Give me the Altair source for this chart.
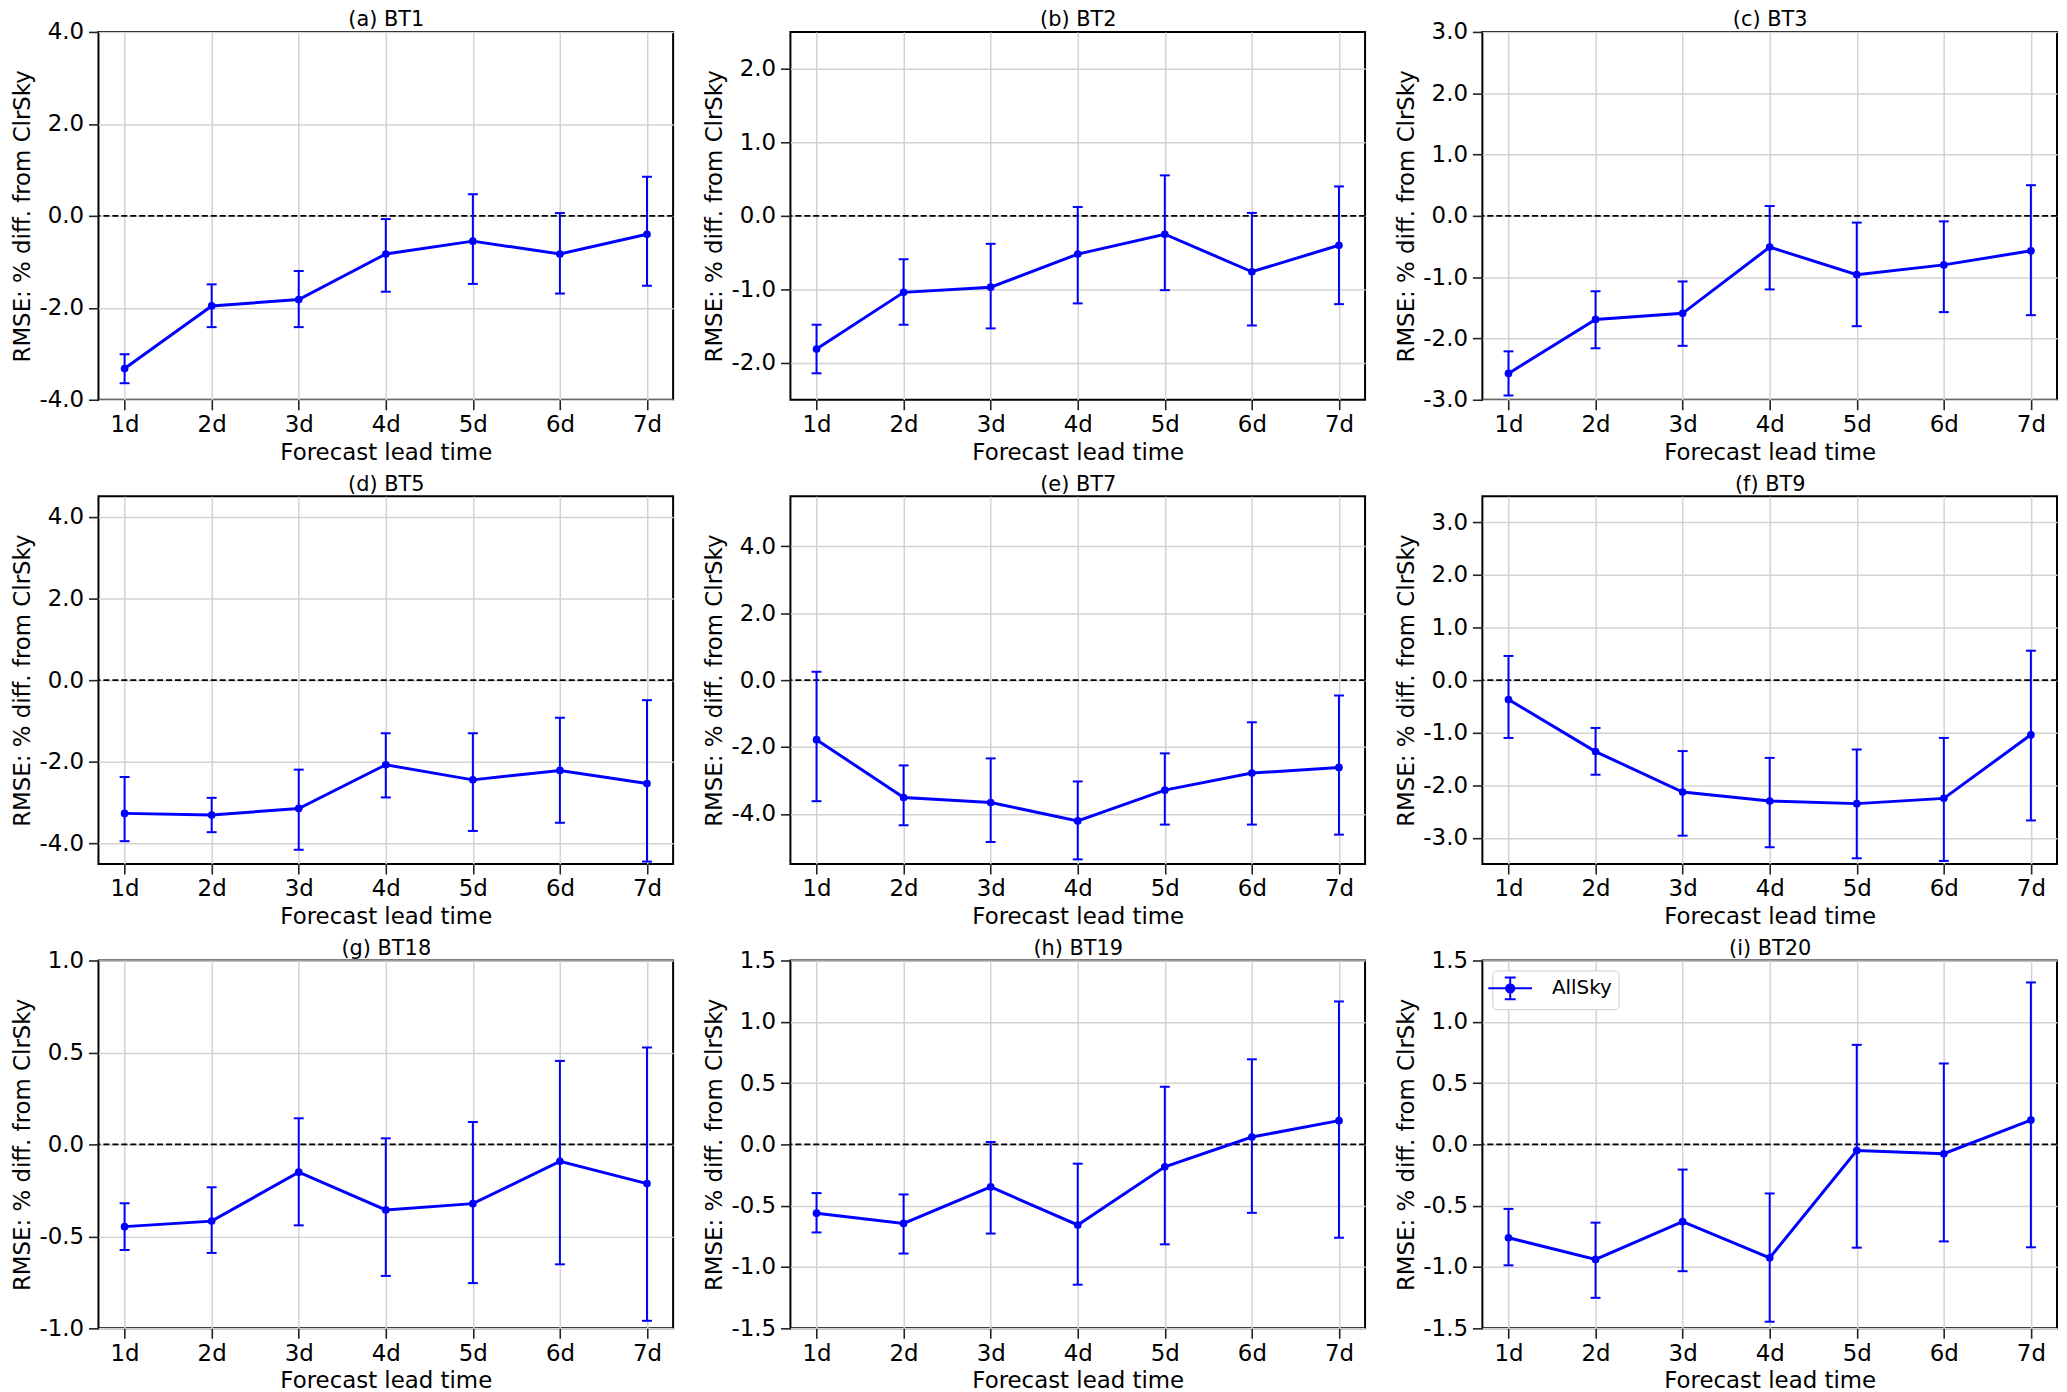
import altair as alt
import pandas as pd

# ---------------- data ----------------
leads = [1, 2, 3, 4, 5, 6, 7]

titles = ["(a) BT1", "(b) BT2", "(c) BT3", "(d) BT5", "(e) BT7",
          "(f) BT9", "(g) BT18", "(h) BT19", "(i) BT20"]

y_domains = [[-4, 4], [-2.5, 2.5], [-3, 3], [-4.5, 4.5], [-5.5, 5.5],
             [-3.5, 3.5], [-1, 1], [-1.5, 1.5], [-1.5, 1.5]]

y_ticks = [[-4, -2, 0, 2, 4], [-2, -1, 0, 1, 2], [-3, -2, -1, 0, 1, 2, 3],
           [-4, -2, 0, 2, 4], [-4, -2, 0, 2, 4], [-3, -2, -1, 0, 1, 2, 3],
           [-1, -0.5, 0, 0.5, 1], [-1.5, -1, -0.5, 0, 0.5, 1, 1.5],
           [-1.5, -1, -0.5, 0, 0.5, 1, 1.5]]

mean_bt1 = [-3.32, -1.96, -1.82, -0.83, -0.55, -0.83, -0.40]
hi_bt1 = [-3.01, -1.49, -1.20, -0.07, 0.47, 0.06, 0.85]
lo_bt1 = [-3.64, -2.42, -2.42, -1.65, -1.48, -1.69, -1.52]

mean_bt2 = [-1.81, -1.04, -0.97, -0.52, -0.25, -0.76, -0.40]
hi_bt2 = [-1.48, -0.59, -0.38, 0.12, 0.55, 0.04, 0.40]
lo_bt2 = [-2.14, -1.48, -1.53, -1.19, -1.01, -1.49, -1.20]

mean_bt3 = [-2.57, -1.69, -1.59, -0.51, -0.96, -0.80, -0.57]
hi_bt3 = [-2.21, -1.23, -1.07, 0.16, -0.11, -0.09, 0.50]
lo_bt3 = [-2.93, -2.16, -2.12, -1.20, -1.80, -1.57, -1.62]

mean_bt5 = [-3.26, -3.30, -3.14, -2.07, -2.44, -2.21, -2.53]
hi_bt5 = [-2.37, -2.88, -2.19, -1.30, -1.30, -0.92, -0.49]
lo_bt5 = [-3.94, -3.72, -4.15, -2.87, -3.69, -3.49, -4.44]

mean_bt7 = [-1.78, -3.51, -3.66, -4.21, -3.29, -2.78, -2.61]
hi_bt7 = [0.25, -2.55, -2.34, -3.03, -2.19, -1.26, -0.46]
lo_bt7 = [-3.62, -4.34, -4.84, -5.36, -4.32, -4.32, -4.62]

mean_bt9 = [-0.37, -1.36, -2.13, -2.30, -2.35, -2.25, -1.04]
hi_bt9 = [0.46, -0.91, -1.35, -1.48, -1.32, -1.10, 0.56]
lo_bt9 = [-1.10, -1.80, -2.96, -3.18, -3.39, -3.44, -2.67]

mean_bt18 = [-0.447, -0.417, -0.151, -0.356, -0.322, -0.092, -0.213]
hi_bt18 = [-0.320, -0.233, 0.142, 0.033, 0.122, 0.454, 0.527]
lo_bt18 = [-0.574, -0.590, -0.440, -0.715, -0.754, -0.652, -0.959]

mean_bt19 = [-0.561, -0.644, -0.347, -0.657, -0.183, 0.060, 0.194]
hi_bt19 = [-0.397, -0.408, 0.020, -0.157, 0.470, 0.694, 1.166]
lo_bt19 = [-0.718, -0.890, -0.727, -1.144, -0.815, -0.558, -0.761]

mean_bt20 = [-0.761, -0.938, -0.630, -0.925, -0.050, -0.076, 0.199]
hi_bt20 = [-0.526, -0.638, -0.205, -0.400, 0.812, 0.660, 1.321]
lo_bt20 = [-0.986, -1.251, -1.034, -1.446, -0.842, -0.791, -0.839]

means = [mean_bt1, mean_bt2, mean_bt3, mean_bt5, mean_bt7, mean_bt9,
         mean_bt18, mean_bt19, mean_bt20]
his = [hi_bt1, hi_bt2, hi_bt3, hi_bt5, hi_bt7, hi_bt9, hi_bt18, hi_bt19, hi_bt20]
los = [lo_bt1, lo_bt2, lo_bt3, lo_bt5, lo_bt7, lo_bt9, lo_bt18, lo_bt19, lo_bt20]

series_name = "AllSky"

# ---------------- styling ----------------
FONT = "DejaVu Sans"
BLUE = "#0000ff"
W, H = 578, 370

legend_path = ("M-2,0H2M0,-1V1M-0.5,-1H0.5M-0.5,1H0.5"
               "M0.38,0A0.38,0.38 0 1,1 -0.38,0A0.38,0.38 0 1,1 0.38,0Z")

y_label_expr = "(datum.value < 0 ? '-' : '') + format(abs(datum.value), '.1f')"


def panel(k):
    df = pd.DataFrame({"lead": leads, "mean": means[k], "lo": los[k],
                       "hi": his[k], "series": [series_name] * len(leads)})
    zero_df = pd.DataFrame({"zero": [0.0]})

    xscale = alt.Scale(domain=[0.7, 7.3], nice=False, zero=False)
    yscale = alt.Scale(domain=y_domains[k], nice=False, zero=False)
    xaxis = alt.Axis(values=leads, labelExpr="datum.value + 'd'",
                     title="Forecast lead time", labelFlush=False,
                     labelOverlap=False)
    top_axis = alt.Axis(orient="top", title=titles[k], labels=False,
                        ticks=False, grid=False, domain=True,
                        domainOpacity=0, titleFontSize=21, titlePadding=2)
    yaxis = alt.Axis(values=y_ticks[k], labelExpr=y_label_expr,
                     title="RMSE: % diff. from ClrSky", labelFlush=False,
                     labelOverlap=False)

    X_bottom = alt.X("lead:Q", scale=xscale, axis=xaxis)
    X_top = alt.X("lead:Q", scale=xscale, axis=top_axis)
    X_none = alt.X("lead:Q", scale=xscale, axis=None)

    zero = alt.Chart(zero_df).mark_rule(
        color="black", strokeDash=[6, 3], strokeWidth=1.8
    ).encode(y=alt.Y("zero:Q", scale=yscale, axis=yaxis))

    base = alt.Chart(df)
    bars = base.mark_rule(color=BLUE, strokeWidth=2).encode(
        x=X_bottom, y=alt.Y("lo:Q", scale=yscale, axis=yaxis), y2="hi:Q")
    cap_lo = base.mark_tick(color=BLUE, orient="horizontal", size=10,
                            thickness=2, opacity=1).encode(
        x=X_none, y=alt.Y("lo:Q", scale=yscale, axis=yaxis))
    cap_hi = base.mark_tick(color=BLUE, orient="horizontal", size=10,
                            thickness=2, opacity=1).encode(
        x=X_none, y=alt.Y("hi:Q", scale=yscale, axis=yaxis))

    if k == 8:
        line = base.mark_line(strokeWidth=3).encode(
            x=X_none, y=alt.Y("mean:Q", scale=yscale, axis=yaxis),
            color=alt.Color("series:N", scale=alt.Scale(range=[BLUE]),
                            legend=alt.Legend(
                                title=None, orient="top-left", offset=10,
                                symbolType=legend_path, symbolSize=484,
                                symbolStrokeWidth=2,
                                symbolFillColor=BLUE,
                                symbolStrokeColor=BLUE,
                                labelFont=FONT, labelFontSize=20,
                                labelColor="black", labelOffset=30,
                                fillColor="white", strokeColor="#cccccc",
                                cornerRadius=4, padding=6)))
    else:
        line = base.mark_line(color=BLUE, strokeWidth=3).encode(
            x=X_none, y=alt.Y("mean:Q", scale=yscale, axis=yaxis))

    pts = base.mark_point(filled=True, color=BLUE, size=60, opacity=1).encode(
        x=X_top, y=alt.Y("mean:Q", scale=yscale, axis=yaxis))

    return alt.layer(zero, bars, cap_lo, cap_hi, line, pts).resolve_axis(
        x="independent").properties(width=W, height=H)


rows = []
for r in range(3):
    rows.append(
        alt.hconcat(*[panel(3 * r + c) for c in range(3)], spacing=28)
        .resolve_scale(color="independent")
        .resolve_legend(color="independent"))

chart = alt.vconcat(*rows, spacing=7).resolve_scale(
    color="independent").resolve_legend(color="independent").properties(
    padding={"left": 3, "top": -4, "right": 0, "bottom": 0},
    background="white",
).configure_view(
    stroke="black", strokeWidth=2
).configure_axis(
    labelFont=FONT, labelFontSize=23, labelColor="black",
    titleFont=FONT, titleFontSize=23, titleFontWeight="normal",
    titleColor="black",
    grid=True, gridColor="#d3d3d3", gridWidth=1.5,
    domain=False, ticks=True, tickColor="#222222", tickSize=10, tickWidth=1.6,
).configure_axisX(
    labelPadding=4, titlePadding=5
).configure_axisY(
    labelPadding=5, titlePadding=4
)

chart.save("out.html", embed_options={"renderer": "svg", "actions": False})
